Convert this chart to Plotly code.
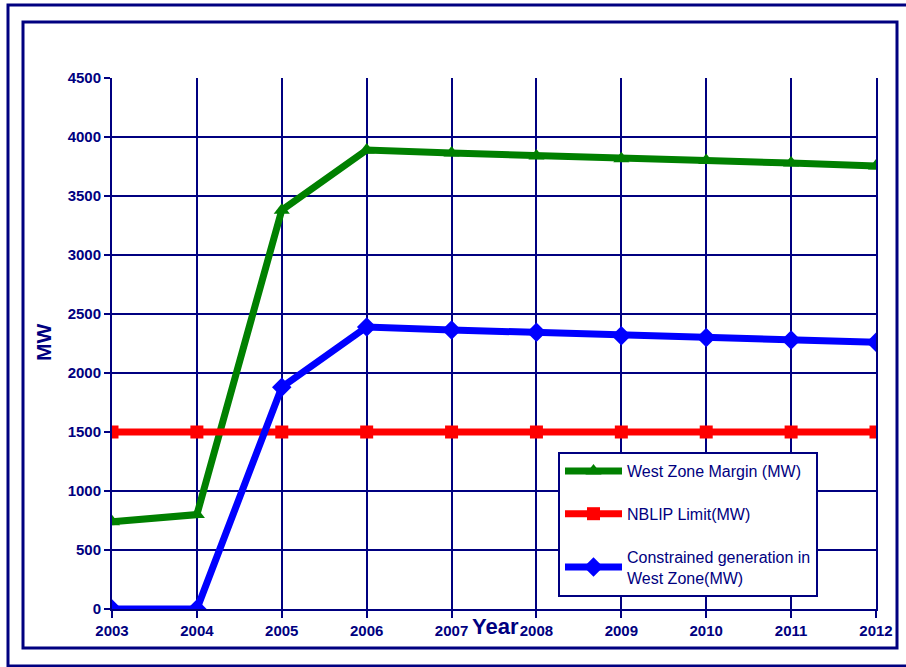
import plotly.graph_objects as go

years = [2003, 2004, 2005, 2006, 2007, 2008, 2009, 2010, 2011, 2012]
west_zone_margin = [740, 800, 3380, 3890, 3865, 3840, 3815, 3800, 3780, 3755]
nblip_limit = [1500, 1500, 1500, 1500, 1500, 1500, 1500, 1500, 1500, 1500]
constrained_gen = [0, 0, 1880, 2390, 2365, 2345, 2315, 2300, 2280, 2260]
y_ticks = [0, 500, 1000, 1500, 2000, 2500, 3000, 3500, 4000, 4500]

NAVY = "#000080"
FONT = "Liberation Sans, Arial, sans-serif"

fig = go.Figure()
fig.add_trace(go.Scatter(
    x=years, y=west_zone_margin, name="West Zone Margin (MW)", mode="lines+markers",
    line=dict(color="#008000", width=7), marker=dict(symbol="triangle-up", size=14, color="#008000"),
    legendgroup="a"))
fig.add_trace(go.Scatter(
    x=years, y=nblip_limit, name="NBLIP Limit(MW)", mode="lines+markers",
    line=dict(color="#FF0000", width=7), marker=dict(symbol="square", size=13, color="#FF0000"),
    legendgroup="b"))
fig.add_trace(go.Scatter(
    x=years, y=constrained_gen, name="Constrained generation in<br>West Zone(MW)", mode="lines+markers",
    line=dict(color="#0000FF", width=7), marker=dict(symbol="diamond", size=15, color="#0000FF"),
    legendgroup="c"))

L, R, T, B = 112, 30, 78, 58
W, H = 906, 667
pw, ph = W - L - R, H - T - B

def px(x):
    return (x - L) / pw

def py(y):
    return (H - B - y) / ph

fig.update_layout(
    width=W, height=H,
    margin=dict(l=L, r=R, t=T, b=B),
    paper_bgcolor="white", plot_bgcolor="white",
    font=dict(family=FONT, color=NAVY),
    showlegend=True,
    legend=dict(
        x=px(558), y=py(452), xanchor="left", yanchor="top",
        bgcolor="white", bordercolor=NAVY, borderwidth=2,
        font=dict(size=16, color=NAVY, family=FONT),
        traceorder="grouped", tracegroupgap=19, itemwidth=57,
    ),
    xaxis=dict(
        range=[2003, 2012], tickvals=years, ticktext=[str(y) for y in years],
        showgrid=True, gridcolor=NAVY, gridwidth=2,
        showline=True, linecolor=NAVY, linewidth=2,
        ticks="outside", ticklen=7, tickcolor=NAVY, tickwidth=2,
        tickfont=dict(size=15, color=NAVY, family=FONT, weight="bold"),
        zeroline=False, fixedrange=True,
    ),
    yaxis=dict(
        range=[0, 4500], tickvals=y_ticks,
        showgrid=True, gridcolor=NAVY, gridwidth=2,
        showline=True, linecolor=NAVY, linewidth=2, mirror=True,
        ticks="outside", ticklen=6, tickcolor=NAVY, tickwidth=2,
        tickfont=dict(size=15, color=NAVY, family=FONT, weight="bold"),
        zeroline=False, fixedrange=True,
    ),
    shapes=[
        dict(type="rect", xref="paper", yref="paper", x0=px(8), x1=px(915), y0=py(666), y1=py(5),
             line=dict(color=NAVY, width=3), layer="below"),
        dict(type="rect", xref="paper", yref="paper", x0=px(23), x1=px(897), y0=py(648), y1=py(22),
             line=dict(color=NAVY, width=3), layer="below"),
    ],
    annotations=[
        dict(text="<b>Year</b>", xref="paper", yref="paper", x=px(495), y=py(626),
             showarrow=False, font=dict(size=22, color=NAVY, family=FONT), xanchor="center", yanchor="middle"),
        dict(text="<b>MW</b>", xref="paper", yref="paper", x=px(43), y=py(343), textangle=-90,
             showarrow=False, font=dict(size=21, color=NAVY, family=FONT), xanchor="center", yanchor="middle"),
    ],
)

fig.write_html("out.html", config={"displayModeBar": False},
               post_script="document.body.style.margin='0';")
